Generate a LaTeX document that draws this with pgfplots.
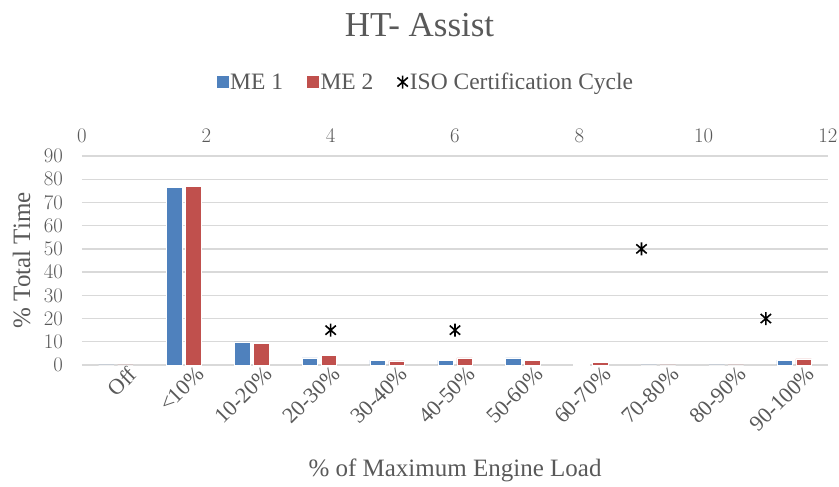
\documentclass[border=0pt]{standalone}
\usepackage{pgfplots}
\pgfplotsset{compat=1.18}
\usepackage{fontspec}
\setmainfont{Liberation Serif}
\definecolor{txt}{HTML}{595959}
\definecolor{grd}{HTML}{D9D9D9}
\definecolor{meA}{HTML}{4F81BD}
\definecolor{meB}{HTML}{C0504D}
\pgfdeclareplotmark{xstar}{%
  \pgfpathmoveto{\pgfqpoint{0pt}{-\pgfplotmarksize}}%
  \pgfpathlineto{\pgfqpoint{0pt}{\pgfplotmarksize}}%
  \pgfpathmoveto{\pgfqpoint{-0.8\pgfplotmarksize}{-0.7\pgfplotmarksize}}%
  \pgfpathlineto{\pgfqpoint{0.8\pgfplotmarksize}{0.7\pgfplotmarksize}}%
  \pgfpathmoveto{\pgfqpoint{-0.8\pgfplotmarksize}{0.7\pgfplotmarksize}}%
  \pgfpathlineto{\pgfqpoint{0.8\pgfplotmarksize}{-0.7\pgfplotmarksize}}%
  \pgfusepathqstroke}
\begin{document}
\begin{tikzpicture}
\path[use as bounding box] (-82pt,-122pt) rectangle (757pt,365pt);
\begin{axis}[
  at={(0pt,0pt)}, anchor=south west,
  scale only axis, width=746pt, height=209pt,
  xmin=-0.5, xmax=10.5, ymin=0, ymax=90,
  ytick={0,10,...,90},
  xtick={0,...,10},
  xticklabels={Off,<10\%,10-20\%,20-30\%,30-40\%,40-50\%,50-60\%,60-70\%,70-80\%,80-90\%,90-100\%},
  axis line style={draw=none},
  major tick length=0pt,
  ymajorgrids, grid style={grd, line width=1.3pt},
  tick label style={font=\fontsize{22}{24}\selectfont, text=txt},
  xticklabel style={rotate=45, anchor=north east, inner sep=0pt, yshift=-8pt, xshift=8pt},
  yticklabel style={anchor=east, inner sep=0pt, xshift=-19pt},
  xlabel={\% of Maximum Engine Load},
  ylabel={\% Total Time},
  label style={font=\fontsize{25}{27}\selectfont, text=txt},
  xlabel style={at={(axis description cs:0.5,-0.502)}, anchor=center},
  ylabel style={at={(axis description cs:-0.081,0.5)}, anchor=center},
  legend style={at={(axis description cs:0.461,1.354)}, anchor=center, draw=none,
    font=\fontsize{23.5}{25}\selectfont, text=txt, legend columns=3,
    /tikz/every even column/.append style={column sep=22pt},
    legend cell align=left, inner sep=0pt},
  clip=false,
]
\addplot[ybar, bar width=15.5pt, bar shift=-9.5pt, fill=meA, draw=white, line width=0.5pt,
  legend image code/.code={\fill[meA] (0pt,-5.5pt) rectangle (11pt,5.5pt);}]
  coordinates {(0,0) (1,76.4) (2,10) (3,3.1) (4,2.1) (5,2.1) (6,3.1) (7,0.4) (8,0) (9,0) (10,2.1)};
\addlegendentry{ME 1}
\addplot[ybar, bar width=15.5pt, bar shift=9.5pt, fill=meB, draw=white, line width=0.5pt,
  legend image code/.code={\fill[meB] (0pt,-5.5pt) rectangle (11pt,5.5pt);}]
  coordinates {(0,0) (1,76.8) (2,9.2) (3,4.3) (4,1.8) (5,3.1) (6,2.1) (7,1.1) (8,0) (9,0) (10,2.6)};
\addlegendentry{ME 2}
\addlegendimage{only marks, mark=xstar, mark size=6.5pt, black, line width=1.6pt}
\addlegendentry{ISO Certification Cycle}
\end{axis}
\begin{axis}[
  at={(0pt,0pt)}, anchor=south west,
  scale only axis, width=746pt, height=209pt,
  xmin=0, xmax=12, ymin=0, ymax=90,
  axis x line*=top, axis y line=none,
  axis line style={draw=none},
  major tick length=0pt,
  xtick={0,2,...,12},
  tick label style={font=\fontsize{22}{24}\selectfont, text=txt},
  xticklabel style={anchor=south, inner sep=0pt, yshift=13pt},
  clip=false,
]
\addplot[only marks, mark=xstar, mark size=6.5pt, black, line width=1.6pt]
  coordinates {(4,15) (6,15) (9,50) (11,20)};
\end{axis}
\node[font=\fontsize{35}{37}\selectfont, text=txt] at (337.5pt,340pt) {HT- Assist};
\end{tikzpicture}
\end{document}
